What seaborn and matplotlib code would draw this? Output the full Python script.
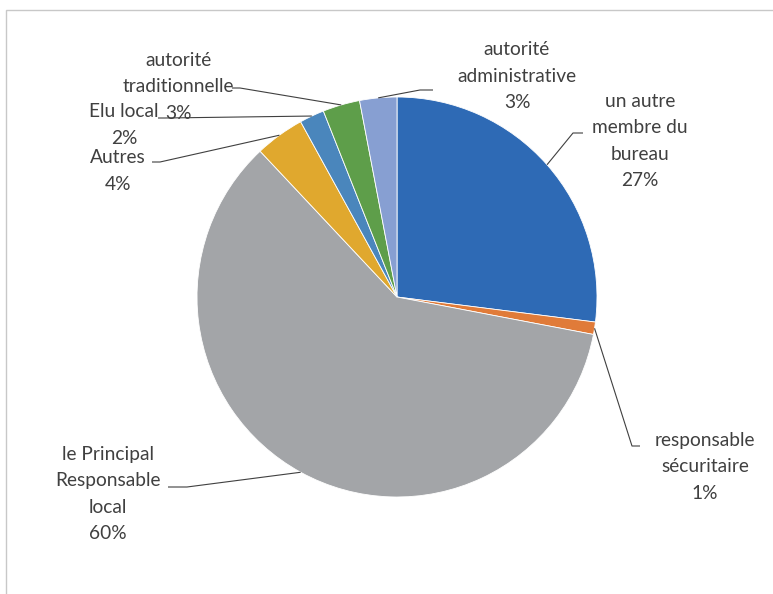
import numpy as np
import matplotlib
matplotlib.use("Agg")
import matplotlib.pyplot as plt
from matplotlib.patches import Rectangle
import seaborn as sns

# Répartition des répondants par fonction
categories = [
    "un autre\nmembre du\nbureau",
    "responsable\nsécuritaire",
    "le Principal\nResponsable\nlocal",
    "Autres",
    "Elu local",
    "autorité\ntraditionnelle",
    "autorité\nadministrative",
]
values = [27, 1, 60, 4, 2, 3, 3]
colors = ["#2E6AB5", "#E07B39", "#A3A5A8", "#E0A82E", "#4A86BC", "#5E9E4A", "#879FD2"]

# label text anchor (centre) and leader-line elbow / end, in pixel layout units
label_pos = [(640, 141), (705, 467), (108, 494), (118, 171), (124, 125), (178, 87), (517, 76)]
leader_elbow = [(573, 133), (632, 446), (187, 487), (160, 162), (165, 118), (240, 88), (420, 90)]
leader_end = [(583, 133), (640, 446), (168, 487), (152, 162), (158, 118), (232, 88), (433, 90)]

sns.set_theme(style="white")
plt.rcParams["font.family"] = ["Lato", "DejaVu Sans"]

W, H = 773, 594
fig = plt.figure(figsize=(W / 100, H / 100), dpi=100)
ax = fig.add_axes([0, 0, 1, 1])

cx, cy, R = 397, H - 297, 200
wedges, _ = ax.pie(values, colors=colors, startangle=90, counterclock=False,
                   center=(cx, cy), radius=R, frame=True,
                   wedgeprops=dict(edgecolor="white", linewidth=0.6))
ax.set_xlim(0, W)
ax.set_ylim(0, H)
ax.set_aspect("equal")
ax.axis("off")

# chart frame
fig.patches.append(Rectangle((6 / W, -0.05), 1.1, (H - 10) / H + 0.05, transform=fig.transFigure,
                             fill=False, edgecolor="#C8C8C8", linewidth=1.0))

for w, cat, v, lp, el, en in zip(wedges, categories, values, label_pos, leader_elbow, leader_end):
    theta = np.deg2rad((w.theta1 + w.theta2) / 2)
    sx, sy = cx + R * np.cos(theta), cy + R * np.sin(theta)
    ax.plot([sx, el[0], en[0]], [sy, H - el[1], H - en[1]], color="#404040", lw=0.8,
            solid_capstyle="butt")
    ax.text(lp[0], H - lp[1], f"{cat}\n{v}%", ha="center", va="center",
            fontsize=13.8, color="#404040", linespacing=1.68)

fig.savefig("out.png", dpi=100)
